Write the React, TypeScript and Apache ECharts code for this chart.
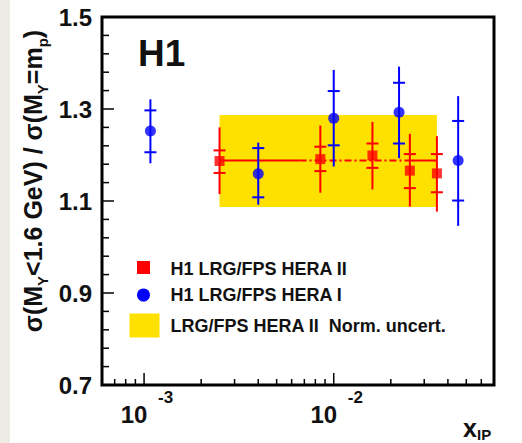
import React, { useEffect, useRef } from "react";
import * as echarts from "echarts";

// ---- data ----
// H1 LRG/FPS HERA II (red squares)
const redX = [2.5e-3, 8.5e-3, 1.6e-2, 2.52e-2, 3.5e-2];
const redY = [1.187, 1.191, 1.199, 1.166, 1.16];
const redStatLo = [1.161, 1.165, 1.172, 1.128, 1.119];
const redStatHi = [1.21, 1.218, 1.225, 1.202, 1.202];
const redTotLo = [1.115, 1.118, 1.125, 1.088, 1.077];
const redTotHi = [1.26, 1.264, 1.272, 1.246, 1.241];

// H1 LRG/FPS HERA I (blue circles)
const blueX = [1.08e-3, 4.0e-3, 1.0e-2, 2.21e-2, 4.53e-2];
const blueY = [1.252, 1.159, 1.28, 1.293, 1.188];
const blueStatLo = [1.206, 1.108, 1.221, 1.225, 1.101];
const blueStatHi = [1.297, 1.215, 1.339, 1.357, 1.274];
const blueTotLo = [1.182, 1.092, 1.175, 1.193, 1.046];
const blueTotHi = [1.321, 1.227, 1.385, 1.392, 1.328];

// average line and its normalisation uncertainty band
const avgValue = 1.188;
const avgSolidA = [2.5e-3, 6.6e-3];
const avgDashed = [6.6e-3, 2.52e-2];
const avgSolidB = [2.52e-2, 3.5e-2];
const bandX = [2.5e-3, 3.5e-2];
const bandY = [1.087, 1.287];

// axes
const xMin = 6e-4;
const xMax = 0.07;
const yMin = 0.7;
const yMax = 1.5;
const xMajorTicks = [1e-3, 1e-2];
const xMinorTicks = [7e-4, 8e-4, 9e-4, 2e-3, 3e-3, 4e-3, 5e-3, 6e-3, 7e-3, 8e-3, 9e-3, 2e-2, 3e-2, 4e-2, 5e-2, 6e-2];
const xLabelBase = ["10", "10"];
const xLabelExp = ["-3", "-2"];
const yMajorTicks = [0.7, 0.9, 1.1, 1.3, 1.5];
const yMinorTicks = [0.74, 0.78, 0.82, 0.86, 0.94, 0.98, 1.02, 1.06, 1.14, 1.18, 1.22, 1.26, 1.34, 1.38, 1.42, 1.46];

const legendLabels = ["H1 LRG/FPS HERA II", "H1 LRG/FPS HERA I", "LRG/FPS HERA II  Norm. uncert."];

const RED = "#ff0000";
const BLUE = "#0000ff";
const YELLOW = "#ffe100";
const TXT = "#111111";
const FF = '"Liberation Sans", Arial, Helvetica, sans-serif';

function errorRows(x: number[], y: number[], sl: number[], sh: number[], tl: number[], th: number[]) {
  return x.map((v, i) => [v, y[i], sl[i], sh[i], tl[i], th[i]]);
}

function errorRender(color: string) {
  return (params: any, api: any) => {
    const x = api.value(0);
    const top = api.coord([x, api.value(5)]);
    const bot = api.coord([x, api.value(4)]);
    const sh = api.coord([x, api.value(3)]);
    const sl = api.coord([x, api.value(2)]);
    const st = { stroke: color, lineWidth: 2 };
    return {
      type: "group",
      children: [
        { type: "line", shape: { x1: top[0], y1: top[1], x2: bot[0], y2: bot[1] }, style: st },
        { type: "line", shape: { x1: sh[0] - 6, y1: sh[1], x2: sh[0] + 6, y2: sh[1] }, style: st },
        { type: "line", shape: { x1: sl[0] - 6, y1: sl[1], x2: sl[0] + 6, y2: sl[1] }, style: st },
      ],
    };
  };
}

export default function App() {
  const ref = useRef<HTMLDivElement>(null);
  useEffect(() => {
    if (!ref.current) return;
    const chart = echarts.init(ref.current, undefined, { renderer: "svg" });

    const axisDeco = (params: any, api: any) => {
      const children: any[] = [];
      const st = { stroke: "#000", lineWidth: 1.5 };
      xMajorTicks.forEach((v) => {
        const p = api.coord([v, yMin]);
        children.push({ type: "line", shape: { x1: p[0], y1: p[1], x2: p[0], y2: p[1] - 12 }, style: st });
      });
      xMinorTicks.forEach((v) => {
        const p = api.coord([v, yMin]);
        children.push({ type: "line", shape: { x1: p[0], y1: p[1], x2: p[0], y2: p[1] - 6 }, style: st });
      });
      yMajorTicks.forEach((v) => {
        const p = api.coord([xMin, v]);
        children.push({ type: "line", shape: { x1: p[0], y1: p[1], x2: p[0] + 12, y2: p[1] }, style: st });
      });
      yMinorTicks.forEach((v) => {
        const p = api.coord([xMin, v]);
        children.push({ type: "line", shape: { x1: p[0], y1: p[1], x2: p[0] + 7, y2: p[1] }, style: st });
      });
      xMajorTicks.forEach((v, i) => {
        const p = api.coord([v, yMin]);
        children.push({
          type: "text",
          x: p[0] - 10,
          y: p[1] + 29,
          style: { text: xLabelBase[i], fill: TXT, font: `bold 24px ${FF}`, align: "center", verticalAlign: "middle" },
        });
        children.push({
          type: "text",
          x: p[0] + 14,
          y: p[1] + 12.5,
          style: { text: xLabelExp[i], fill: TXT, font: `bold 17px ${FF}`, align: "left", verticalAlign: "middle" },
        });
      });
      return { type: "group", children };
    };

    const option: any = {
      animation: false,
      backgroundColor: "#ffffff",
      grid: {
        show: true,
        left: 102,
        top: 17,
        width: 392,
        height: 368,
        borderColor: "#000",
        borderWidth: 3,
        backgroundColor: "#fff",
        containLabel: false,
      },
      xAxis: {
        type: "log",
        logBase: 10,
        min: xMin,
        max: xMax,
        axisLine: { show: false },
        axisTick: { show: false },
        axisLabel: { show: false },
        splitLine: { show: false },
      },
      yAxis: {
        type: "value",
        min: yMin,
        max: yMax,
        axisLine: { show: false },
        axisTick: { show: false },
        splitLine: { show: false },
        axisLabel: {
          customValues: yMajorTicks,
          formatter: (v: number) => v.toFixed(1),
          fontSize: 24,
          fontWeight: "bold",
          fontFamily: FF,
          color: TXT,
          margin: 10,
        },
      },
      graphic: [
        { type: "rect", left: 0, top: 0, shape: { x: 0, y: 0, width: 10, height: 443 }, style: { fill: "#edebe3" }, z: 100 },
        {
          type: "text",
          x: 138,
          y: 53,
          style: { text: "H1", fill: TXT, font: `bold 37px ${FF}`, align: "left", verticalAlign: "middle" },
          z: 100,
        },
        {
          type: "text",
          x: 33,
          y: 181,
          rotation: Math.PI / 2,
          style: {
            text: "{m|σ(M}{s|Y}{m|<1.6 GeV) / σ(M}{s|Y}{m|=m}{s|p}{m|)}",
            align: "center",
            verticalAlign: "middle",
            fill: TXT,
            rich: {
              m: { font: `bold 25px ${FF}`, fill: TXT, lineHeight: 34, verticalAlign: "middle" },
              s: { font: `bold 15px ${FF}`, fill: TXT, lineHeight: 14, verticalAlign: "bottom" },
            },
          },
          z: 100,
        },
        {
          type: "text",
          x: 463,
          y: 428,
          style: { text: "x", fill: TXT, font: `bold 25px ${FF}`, align: "left", verticalAlign: "middle" },
          z: 100,
        },
        {
          type: "text",
          x: 477,
          y: 434,
          style: { text: "IP", fill: TXT, font: `bold 15px ${FF}`, align: "left", verticalAlign: "middle" },
          z: 100,
        },
        // legend
        { type: "rect", shape: { x: 137, y: 261, width: 13, height: 13 }, style: { fill: RED }, z: 100 },
        { type: "circle", shape: { cx: 143.5, cy: 295, r: 6.5 }, style: { fill: BLUE }, z: 100 },
        { type: "rect", shape: { x: 129.5, y: 313.5, width: 30, height: 24 }, style: { fill: YELLOW }, z: 100 },
        {
          type: "text",
          x: 170.5,
          y: 268.5,
          style: { text: legendLabels[0], fill: TXT, font: `bold 18px ${FF}`, align: "left", verticalAlign: "middle" },
          z: 100,
        },
        {
          type: "text",
          x: 170.5,
          y: 294.5,
          style: { text: legendLabels[1], fill: TXT, font: `bold 18px ${FF}`, align: "left", verticalAlign: "middle" },
          z: 100,
        },
        {
          type: "text",
          x: 170.5,
          y: 325.5,
          style: { text: legendLabels[2], fill: TXT, font: `bold 18px ${FF}`, align: "left", verticalAlign: "middle" },
          z: 100,
        },
      ],
      series: [
        {
          type: "custom",
          name: "band",
          silent: true,
          z: 1,
          encode: { x: [0, 1], y: [2, 3] },
          data: [[bandX[0], bandX[1], bandY[0], bandY[1]]],
          renderItem: (params: any, api: any) => {
            const a = api.coord([api.value(0), api.value(3)]);
            const b = api.coord([api.value(1), api.value(2)]);
            return {
              type: "rect",
              shape: { x: a[0], y: a[1], width: b[0] - a[0], height: b[1] - a[1] },
              style: { fill: YELLOW },
            };
          },
        },
        {
          type: "line",
          silent: true,
          z: 2,
          showSymbol: false,
          data: avgSolidA.map((x) => [x, avgValue]),
          lineStyle: { color: RED, width: 2, type: "solid" },
        },
        {
          type: "line",
          silent: true,
          z: 2,
          showSymbol: false,
          data: avgDashed.map((x) => [x, avgValue]),
          lineStyle: { color: RED, width: 2, type: [7, 3, 2, 3] },
        },
        {
          type: "line",
          silent: true,
          z: 2,
          showSymbol: false,
          data: avgSolidB.map((x) => [x, avgValue]),
          lineStyle: { color: RED, width: 2, type: "solid" },
        },
        {
          type: "custom",
          name: "redErr",
          silent: true,
          z: 3,
          encode: { x: 0, y: 1 },
          data: errorRows(redX, redY, redStatLo, redStatHi, redTotLo, redTotHi),
          renderItem: errorRender(RED),
        },
        {
          type: "custom",
          name: "blueErr",
          silent: true,
          z: 4,
          encode: { x: 0, y: 1 },
          data: errorRows(blueX, blueY, blueStatLo, blueStatHi, blueTotLo, blueTotHi),
          renderItem: errorRender(BLUE),
        },
        {
          type: "scatter",
          name: "H1 LRG/FPS HERA II",
          z: 5,
          symbol: "rect",
          symbolSize: 10,
          itemStyle: { color: RED },
          data: redX.map((x, i) => [x, redY[i]]),
        },
        {
          type: "scatter",
          name: "H1 LRG/FPS HERA I",
          z: 5,
          symbol: "circle",
          symbolSize: 11,
          itemStyle: { color: BLUE },
          data: blueX.map((x, i) => [x, blueY[i]]),
        },
        {
          type: "custom",
          name: "axisDeco",
          silent: true,
          clip: false,
          z: 10,
          data: [[1e-3, 1.0]],
          renderItem: axisDeco,
        },
      ],
    };
    chart.setOption(option);
    return () => chart.dispose();
  }, []);
  return (
    <div
      ref={ref}
      style={{ position: "fixed", left: 0, top: 0, width: 522, height: 443, background: "#fff" }}
    />
  );
}
